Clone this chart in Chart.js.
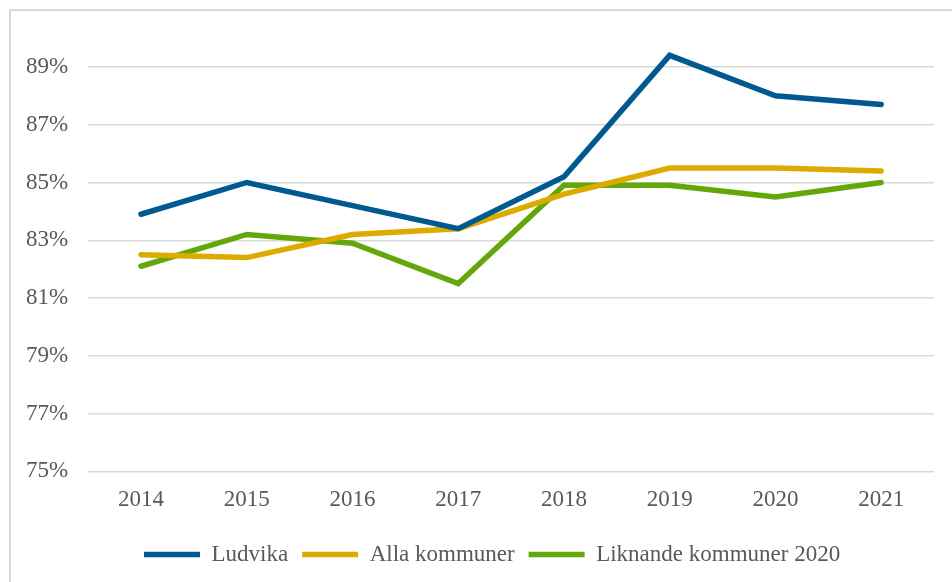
<!DOCTYPE html>
<html>
<head>
<meta charset="utf-8">
<script src="https://cdn.jsdelivr.net/npm/chart.js@4.4.1/dist/chart.umd.min.js"></script>
<style>
    html, body { margin: 0; padding: 0; background: #fff; overflow: hidden; }
    #frame { position: absolute; left: 9px; top: 9px; width: 960px; height: 600px; border: 2px solid #d9d9d9; }
    #wrap { position: absolute; left: 0; top: 0; width: 952px; height: 582px; }
</style>
</head>
<body>
<div id="frame"></div>
<div id="wrap"><canvas id="chart"></canvas></div>
<script>
const years = ['2014', '2015', '2016', '2017', '2018', '2019', '2020', '2021'];
const ludvika = [83.9, 85.0, 84.2, 83.4, 85.2, 89.4, 88.0, 87.7];
const allaKommuner = [82.5, 82.4, 83.2, 83.4, 84.6, 85.5, 85.5, 85.4];
const liknandeKommuner = [82.1, 83.2, 82.9, 81.5, 84.9, 84.9, 84.5, 85.0];
const yTicks = [75, 77, 79, 81, 83, 85, 87, 89];

const font = { family: '"Liberation Serif", "Times New Roman", serif', size: 23 };
const textColor = '#595959';

function series(label, data, color) {
    return {
        label: label,
        data: data,
        borderColor: color,
        backgroundColor: color,
        borderWidth: 5.5,
        borderCapStyle: 'round',
        borderJoinStyle: 'miter',
        pointRadius: 0,
        pointHoverRadius: 0,
        tension: 0
    };
}

// centre the legend under the plot area instead of the whole canvas
const legendShift = {
    id: 'legendShift',
    afterLayout(chart) {
        const lg = chart.legend;
        const dx = (chart.chartArea.left + chart.chartArea.right) / 2 - (lg.left + lg.right) / 2 - 19;
        lg.left += dx;
        lg.right += dx;
    }
};

new Chart(document.getElementById('chart').getContext('2d'), {
    type: 'line',
    data: {
        labels: years,
        datasets: [
            series('Ludvika', ludvika, '#005a8f'),
            series('Alla kommuner', allaKommuner, '#ddaa00'),
            series('Liknande kommuner 2020', liknandeKommuner, '#64a70b')
        ]
    },
    plugins: [legendShift],
    options: {
        responsive: true,
        maintainAspectRatio: false,
        animation: false,
        layout: { padding: { left: 6, right: 18, top: 38, bottom: 6 } },
        plugins: {
            tooltip: { enabled: false },
            legend: {
                position: 'bottom',
                labels: {
                    font: font,
                    color: textColor,
                    usePointStyle: true,
                    pointStyle: 'line',
                    pointStyleWidth: 56,
                    boxHeight: 6,
                    padding: 14
                }
            }
        },
        scales: {
            x: {
                offset: true,
                grid: { display: false, drawTicks: false },
                border: { display: false },
                ticks: { font: font, color: textColor, padding: 15, maxRotation: 0 }
            },
            y: {
                min: 75,
                max: 90,
                afterBuildTicks: function(scale) {
                    scale.ticks = yTicks.map(v => ({ value: v }));
                },
                grid: { color: '#d9d9d9', lineWidth: 1.5, drawTicks: false },
                border: { display: false },
                ticks: {
                    font: font,
                    color: textColor,
                    padding: 20,
                    callback: function(value) {
                        return value + '%';
                    }
                }
            }
        }
    }
});
</script>
</body>
</html>
